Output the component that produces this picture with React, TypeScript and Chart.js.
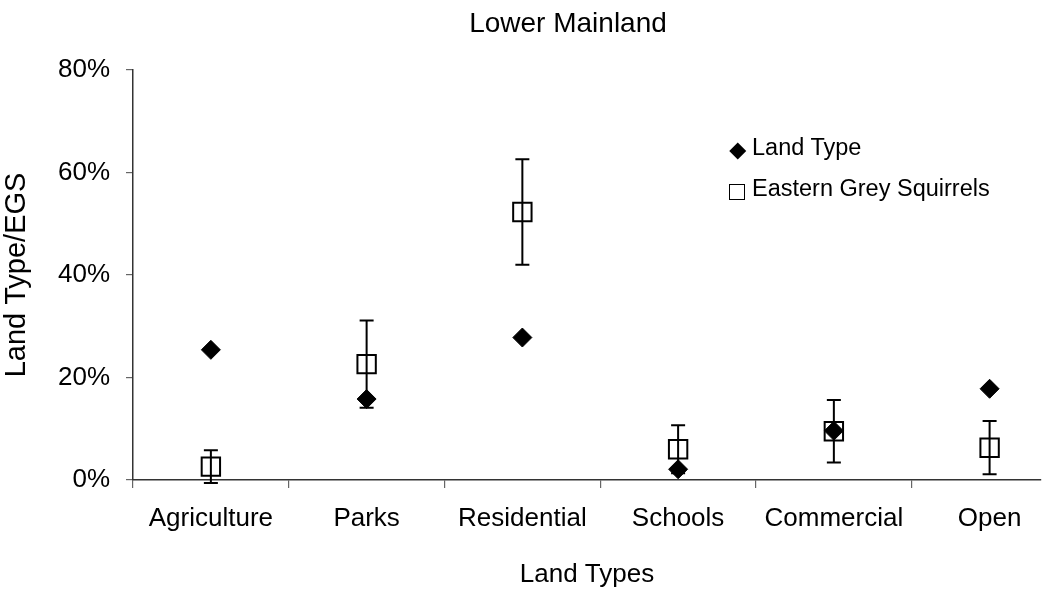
import React, { useEffect, useRef } from "react";
import { Chart, registerables } from "chart.js";

Chart.register(...registerables);

const categories = ["Agriculture", "Parks", "Residential", "Schools", "Commercial", "Open"];
const landTypeValues = [25.4, 15.8, 27.8, 2.1, 9.6, 17.8];
const squirrelValues = [2.6, 22.6, 52.3, 6.0, 9.5, 6.3];
const squirrelErrors = [3.2, 8.5, 10.3, 4.7, 6.1, 5.2];
const yTickValues = [0, 20, 40, 60, 80];
const seriesNames = ["Land Type", "Eastern Grey Squirrels"];
const chartTitle = "Lower Mainland";
const xAxisTitle = "Land Types";
const yAxisTitle = "Land Type/EGS";

const FONT = "'Liberation Sans', Arial, Helvetica, sans-serif";

const errorBarPlugin = {
  id: "errorBars",
  beforeDatasetsDraw(chart: any) {
    const { ctx, scales } = chart;
    const x = scales.x;
    const y = scales.y;
    ctx.save();
    ctx.strokeStyle = "#000";
    ctx.lineWidth = 2;
    squirrelValues.forEach((v, i) => {
      const px = x.getPixelForValue(i);
      const top = y.getPixelForValue(v + squirrelErrors[i]);
      const bot = y.getPixelForValue(v - squirrelErrors[i]);
      ctx.beginPath();
      ctx.moveTo(px, top);
      ctx.lineTo(px, bot);
      ctx.moveTo(px - 7, top);
      ctx.lineTo(px + 7, top);
      ctx.moveTo(px - 7, bot);
      ctx.lineTo(px + 7, bot);
      ctx.stroke();
    });
    ctx.restore();
  },
};

const titlePlugin = {
  id: "titleText",
  afterDraw(chart: any) {
    const { ctx } = chart;
    ctx.save();
    ctx.font = `28px ${FONT}`;
    ctx.fillStyle = "#000";
    ctx.textAlign = "center";
    ctx.textBaseline = "alphabetic";
    ctx.fillText(chartTitle, 568, 32);
    ctx.restore();
  },
};

export default function App() {
  const canvasRef = useRef<HTMLCanvasElement | null>(null);

  useEffect(() => {
    if (!canvasRef.current) return;
    const chart = new Chart(canvasRef.current, {
      type: "scatter",
      data: {
        datasets: [
          {
            label: seriesNames[0],
            data: landTypeValues.map((v, i) => ({ x: i, y: v })),
            pointStyle: "rectRot",
            pointRadius: 9.5,
            pointHoverRadius: 9.5,
            backgroundColor: "#000",
            borderColor: "#000",
            borderWidth: 1,
            clip: false,
          } as any,
          {
            label: seriesNames[1],
            data: squirrelValues.map((v, i) => ({ x: i, y: v })),
            pointStyle: "rect",
            pointRadius: 13,
            pointHoverRadius: 13,
            backgroundColor: "rgba(0,0,0,0)",
            borderColor: "#000",
            borderWidth: 2,
            clip: false,
          } as any,
        ],
      },
      options: {
        animation: false,
        responsive: true,
        maintainAspectRatio: false,
        events: [],
        layout: { padding: { top: 70, right: 0, bottom: 0, left: 0 } },
        plugins: {
          legend: { display: false },
          tooltip: { enabled: false },
          title: { display: false },
        },
        scales: {
          x: {
            type: "linear",
            min: -0.5,
            max: 5.33,
            afterBuildTicks: (s: any) => {
              s.ticks = categories.map((_, i) => ({ value: i }));
            },
            afterFit: (s: any) => {
              s.height = 112;
            },
            ticks: {
              callback: (v: any) => categories[v as number] ?? "",
              font: { family: FONT, size: 26 },
              color: "#000",
              padding: 15,
              maxRotation: 0,
              autoSkip: false,
            },
            grid: {
              offset: true,
              drawOnChartArea: false,
              tickLength: 8,
              color: "#666",
              lineWidth: 1.2,
            },
            border: { color: "#333", width: 1.5 },
            title: {
              display: true,
              text: xAxisTitle,
              font: { family: FONT, size: 26 },
              color: "#000",
              padding: { top: 0, bottom: 2 },
            },
          },
          y: {
            type: "linear",
            min: 0,
            max: 80,
            afterBuildTicks: (s: any) => {
              s.ticks = yTickValues.map((v) => ({ value: v }));
            },
            afterFit: (s: any) => {
              s.width = 133;
            },
            ticks: {
              callback: (v: any) => `${v}%`,
              font: { family: FONT, size: 26 },
              color: "#000",
              padding: 16,
            },
            grid: {
              drawOnChartArea: false,
              tickLength: 7,
              color: "#666",
              lineWidth: 1.2,
            },
            border: { color: "#333", width: 1.5 },
            title: {
              display: true,
              text: yAxisTitle,
              font: { family: FONT, size: 29, lineHeight: 1 },
              color: "#000",
              padding: { top: 2, bottom: 0 },
            },
          },
        },
      },
      plugins: [errorBarPlugin, titlePlugin],
    });
    return () => chart.destroy();
  }, []);

  const legendText: React.CSSProperties = {
    position: "absolute",
    left: 752,
    fontFamily: FONT,
    fontSize: 23.5,
    lineHeight: "23.5px",
    color: "#000",
    whiteSpace: "nowrap",
  };

  return (
    <div style={{ position: "absolute", left: 0, top: 0, width: 1056, height: 592, background: "#fff", overflow: "hidden" }}>
      <canvas ref={canvasRef} />
      <div
        style={{
          position: "absolute",
          left: 732,
          top: 145,
          width: 11.5,
          height: 11.5,
          background: "#000",
          transform: "rotate(45deg)",
        }}
      />
      <div style={{ ...legendText, top: 136 }}>{seriesNames[0]}</div>
      <div
        style={{
          position: "absolute",
          left: 729,
          top: 184,
          width: 14,
          height: 14,
          border: "1.5px solid #000",
          background: "transparent",
        }}
      />
      <div style={{ ...legendText, top: 177 }}>{seriesNames[1]}</div>
    </div>
  );
}
